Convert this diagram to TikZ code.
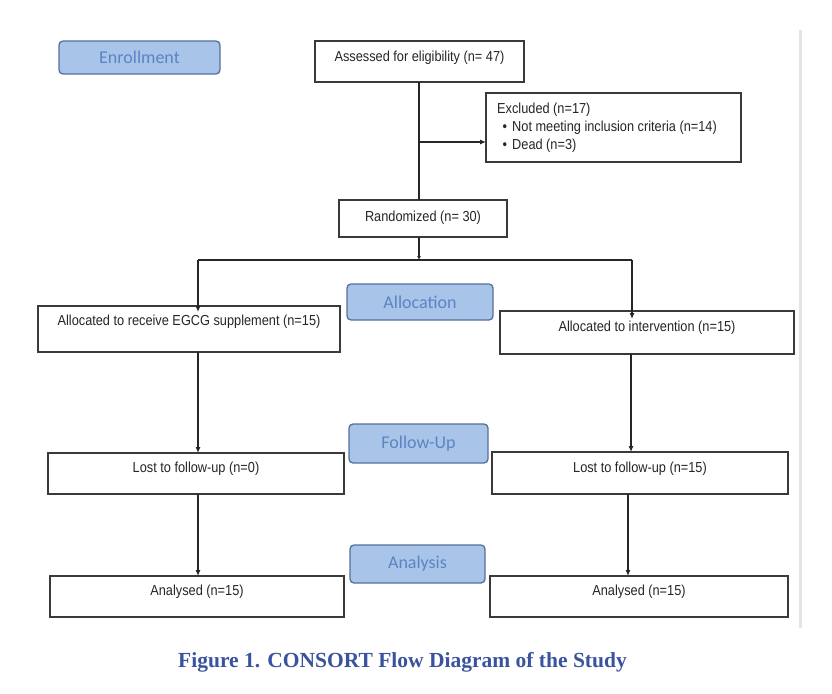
\documentclass[tikz,border=0pt]{standalone}
\usepackage{fontspec}
\setmainfont{Liberation Serif}
\newfontfamily\boxfont[FakeStretch=0.88]{Liberation Sans}
\newfontfamily\tagfont{Carlito}
\usetikzlibrary{arrows.meta}
\definecolor{tagfill}{HTML}{A9C4E9}
\definecolor{tagdraw}{HTML}{56709A}
\definecolor{tagtext}{HTML}{5C84C2}
\definecolor{boxline}{HTML}{3A3A3A}
\definecolor{capblue}{HTML}{3A539E}
\definecolor{faint}{HTML}{E4E4E4}
\tikzset{
  stagebox/.style={draw=tagdraw, fill=tagfill, line width=1.3pt, rounded corners=4pt,
    inner sep=0pt, outer sep=0pt, text=tagtext, font=\tagfont\fontsize{18}{20}\selectfont},
  flowbox/.style={draw=boxline, line width=1.4pt, fill=white, inner sep=0pt, outer sep=0pt,
    font=\boxfont\fontsize{14.5}{17}\selectfont, text=black!85, text depth=12pt},
  conn/.style={draw=black!85, line width=1.1pt},
  arr/.style={conn, -{Latex[length=6pt,width=5pt]}}
}
\begin{document}
\begin{tikzpicture}[x=1pt,y=-1pt]
\useasboundingbox (0,0) rectangle (832,693);
% faint right border
\draw[faint, line width=3pt] (800,30) -- (800,628);

% stage labels
\node[stagebox, minimum width=161pt, minimum height=33pt] (enr) at (139.5,57.5) {Enrollment};
\node[stagebox, minimum width=146pt, minimum height=36pt] (alc) at (420,302) {Allocation};
\node[stagebox, minimum width=139pt, minimum height=39pt] (fup) at (418.5,443.5) {Follow-Up};
\node[stagebox, minimum width=135pt, minimum height=38pt] (ana) at (417.5,564) {Analysis};

% flow boxes
\node[flowbox, minimum width=209pt, minimum height=41pt, text depth=10pt] (ass) at (419.5,61.5) {Assessed for eligibility (n= 47)};
\node[flowbox, minimum width=255pt, minimum height=69pt, text depth=0pt] (exc) at (613.5,127.5) {};
\node[anchor=west, inner sep=0pt, font=\boxfont\fontsize{14.5}{17}\selectfont, text=black!85, align=left] (exct) at (497,128)
  {Excluded (n=17)\\[1pt]
   \hspace*{15pt}\llap{\textbullet\hspace{5pt}}Not meeting inclusion criteria (n=14)\\[1pt]
   \hspace*{15pt}\llap{\textbullet\hspace{5pt}}Dead (n=3)};
\node[flowbox, minimum width=168pt, minimum height=37pt, text depth=4pt] (ran) at (423,218.5) {Randomized (n= 30)};

\node[flowbox, minimum width=302pt, minimum height=46pt, text depth=17pt] (la) at (189,329) {Allocated to receive EGCG supplement (n=15)};
\node[flowbox, minimum width=294pt, minimum height=43pt] (ra) at (647,332.5) {Allocated to intervention (n=15)};
\node[flowbox, minimum width=296pt, minimum height=41pt] (ll) at (196,473.5) {Lost to follow-up (n=0)};
\node[flowbox, minimum width=296pt, minimum height=42pt] (rl) at (640,473) {Lost to follow-up (n=15)};
\node[flowbox, minimum width=294pt, minimum height=41pt] (lan) at (197,596.5) {Analysed (n=15)};
\node[flowbox, minimum width=298pt, minimum height=41pt] (ran2) at (639,596.5) {Analysed (n=15)};

% connector coordinates
\coordinate (vx) at (419,0);
\coordinate (exj) at (419,142);
\coordinate (brc) at (419,260);
\coordinate (brl) at (198,260);
\coordinate (brr) at (632,260);
\coordinate (lx) at (198,0);
\coordinate (rx1) at (631,0);
\coordinate (rx2) at (628,0);

\draw[conn] (ass.south -| vx) -- (ran.north -| vx);
\draw[arr] (exj) -- (exj -| exc.west);
\draw[arr, -{Latex[length=4pt,width=4pt]}] (ran.south -| vx) -- (brc);
\draw[conn] (brl) -- (brr);
\draw[arr] (brl) -- ([yshift=-6pt]la.north -| lx);
\draw[arr] (brr) -- ([yshift=-8pt]ra.north -| brr);
\draw[arr] (la.south -| lx) -- (ll.north -| lx);
\draw[arr] (ra.south -| rx1) -- (rl.north -| rx1);
\draw[arr] (ll.south -| lx) -- (lan.north -| lx);
\draw[arr] (rl.south -| rx2) -- (ran2.north -| rx2);

% caption
\node[font=\bfseries\fontsize{21.5}{24}\selectfont, text=capblue] (cap) at (402.5,662) {Figure 1. CONSORT Flow Diagram of the Study};
\end{tikzpicture}
\end{document}
